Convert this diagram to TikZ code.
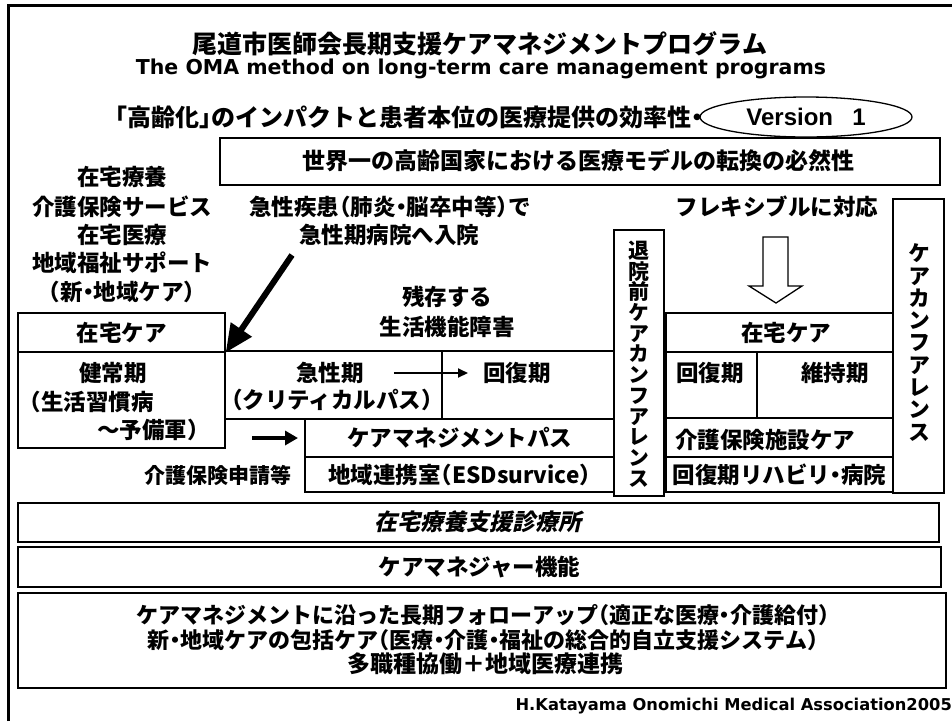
\documentclass[tikz,border=0pt]{standalone}
\usepackage{fontspec}
\setmainfont{Noto Sans CJK JP Black}[RawFeature={+halt}]
\newfontfamily\jpv{Noto Sans CJK JP Black}[RawFeature={+vert}]
\newfontfamily\jpsl{Noto Sans CJK JP Black}[RawFeature={+halt},FakeSlant=0.22]
\newfontfamily\dejab{DejaVu Sans Bold}
\newfontfamily\libb{Liberation Sans Bold}
\usetikzlibrary{arrows.meta,shapes.geometric}
\newcommand\jfs[1]{\fontsize{#1}{#1}\selectfont}
\begin{document}
\begin{tikzpicture}[x=1pt,y=-1pt,
  cell/.style={draw, line width=1.3pt, inner sep=0pt, font={\jfs{22.5}}},
  thickbox/.style={draw, line width=2.8pt, inner sep=0pt},
  txt/.style={inner sep=0pt, font={\jfs{22.5}}},
  vtxt/.style={inner sep=0pt, align=center},
  fat/.style={line width=6pt, -{Triangle[length=28pt,width=24pt]}},
  thin/.style={line width=2pt, -{Triangle[length=10pt,width=9pt]}}]
\useasboundingbox (0,0) rectangle (952,721);
% outer frame
\draw[line width=3pt] (8,721) -- (8,5) -- (952,5);

% titles
\node[txt, font={\jfs{25}}] (t1) at (480,44) {尾道市医師会長期支援ケアマネジメントプログラム};
\node[inner sep=0pt, font={\dejab\jfs{20.5}}] (t2) at (481,69) {The OMA method on long-term care management programs};
\node[txt, font={\jfs{24}}, anchor=west] (t3) at (115,117) {「高齢化」のインパクトと患者本位の医療提供の効率性・};
\node[draw, ellipse, fill=white, line width=1.3pt, minimum width=212pt, minimum height=40pt, inner sep=0pt, font={\libb\jfs{24}}] (ver) at (806,117) {Version\hspace{0.8em}1};

% world box
\node[thickbox, minimum width=720pt, minimum height=47pt] (sekai) at (580,161.5) {};
\node[txt, font={\jfs{23}}] (sekaiT) at (578,161) {世界一の高齢国家における医療モデルの転換の必然性};

% left column texts
\node[txt] (l1) at (122,177) {在宅療養};
\node[txt] (l2) at (122,207) {介護保険サービス};
\node[txt] (l3) at (122,235) {在宅医療};
\node[txt] (l4) at (122,263) {地域福祉サポート};
\node[txt] (l5) at (122,292) {（新・地域ケア）};

% middle texts
\node[txt] (m1) at (390,207) {急性疾患（肺炎・脳卒中等）で};
\node[txt] (m2) at (389,235) {急性期病院へ入院};
\node[txt] (m3) at (447,297) {残存する};
\node[txt] (m4) at (447,327) {生活機能障害};
\node[txt] (f1) at (777,207) {フレキシブルに対応};

% left boxes
\node[cell, minimum width=207pt, minimum height=39pt] (zt1) at (121.5,332.5) {在宅ケア};
\node[cell, minimum width=207pt, minimum height=96pt] (kj) at (121.5,400) {};
\node[txt] (k1) at (113,373) {健常期};
\node[txt, anchor=west] (k2) at (30,402) {（生活習慣病};
\node[txt, anchor=west] (k3) at (97,430) {～予備軍）};

% middle boxes
\node[cell, minimum width=217pt, minimum height=68pt] (akc) at (333.5,385) {};
\node[cell, minimum width=172pt, minimum height=68pt] (kfc) at (528,385) {};
\node[txt] (a1) at (330,373) {急性期};
\node[txt] (a2) at (332,400) {（クリティカルパス）};
\node[txt, anchor=west] (a3) at (483,373) {回復期};
\node[cell, minimum width=309pt, minimum height=38pt] (cmp) at (459.5,438) {ケアマネジメントパス};
\node[cell, minimum width=309pt, minimum height=35pt] (chr) at (459.5,474.5) {地域連携室（ESDsurvice）};
\node[txt, font={\jfs{21}}] (ks) at (218,475) {介護保険申請等};

% pre-discharge conference
\node[thickbox, minimum width=50pt, minimum height=266pt] (tai) at (639,363) {};
\node[vtxt, font={\jpv\fontsize{21}{20.7}\selectfont}] (taiT) at (639,364) {退\\院\\前\\ケ\\ア\\カ\\ン\\フ\\ア\\レ\\ン\\ス};

% right boxes
\node[cell, minimum width=227pt, minimum height=39pt] (rz) at (779.5,332.5) {};
\node[txt] (rzT) at (786,333) {在宅ケア};
\node[cell, minimum width=91pt, minimum height=66pt] (rk) at (711.5,385) {};
\node[cell, minimum width=136pt, minimum height=66pt] (ri) at (825,385) {};
\node[txt, anchor=west] (rkT) at (676,373) {回復期};
\node[txt] (riT) at (835,373) {維持期};
\node[cell, minimum width=227pt, minimum height=39pt] (rs) at (779.5,437.5) {};
\node[txt, anchor=west] (rsT) at (675,440) {介護保険施設ケア};
\node[cell, minimum width=227pt, minimum height=35pt] (rr) at (779.5,474.5) {回復期リハビリ・病院};

% care conference
\node[cell, minimum width=51pt, minimum height=294pt] (cc) at (918.5,346) {};
\node[vtxt, font={\jpv\fontsize{22}{22.3}\selectfont}] (ccT) at (919,342.5) {ケ\\ア\\カ\\ン\\フ\\ア\\レ\\ン\\ス};

% arrows
\coordinate (bigS) at (292,255);
\draw[fat] (bigS) -- (zt1.south east);
\draw[thin, shorten <=30pt, shorten >=15pt] (a1) -- (a3);
\coordinate (sa1) at (252,438);
\coordinate (sa2) at (298,438);
\draw[line width=4.5pt, -{Triangle[length=13pt,width=14pt]}] (sa1) -- (sa2);
\draw[line width=1.3pt, fill=white] (763,237) -- (788,237) -- (788,286) -- (802,286) -- (776,303) -- (749,286) -- (763,286) -- cycle;

% bottom boxes
\node[cell, minimum width=921pt, minimum height=39pt] (b1) at (478.5,522.5) {};
\node[txt, font={\jpsl\jfs{23}}] (b1T) at (478,522) {在宅療養支援診療所};
\node[cell, minimum width=923pt, minimum height=40pt] (b2) at (479.5,567) {ケアマネジャー機能};
\node[cell, minimum width=928pt, minimum height=95pt] (b3) at (482,640.5) {};
\node[txt, font={\jfs{22}}] (b3a) at (483,615) {ケアマネジメントに沿った長期フォローアップ（適正な医療・介護給付）};
\node[txt, font={\jfs{22}}] (b3b) at (483,640) {新・地域ケアの包括ケア（医療・介護・福祉の総合的自立支援システム）};
\node[txt, font={\jfs{23}}] (b3c) at (485,664) {多職種協働＋地域医療連携};

% footer
\node[inner sep=0pt, anchor=east, font={\dejab\jfs{16.3}}] (foot) at (952,706) {H.Katayama Onomichi Medical Association2005};
\end{tikzpicture}
\end{document}
